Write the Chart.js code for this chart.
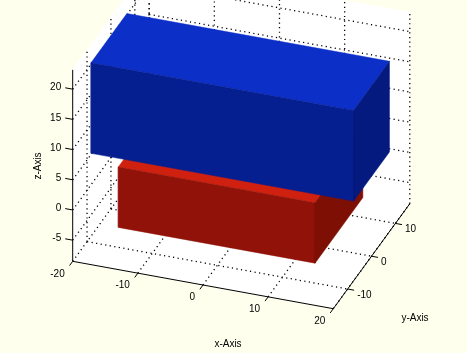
<!DOCTYPE html>
<html>
<head>
<meta charset="utf-8">
<title>3D boxes</title>
<script src="https://cdn.jsdelivr.net/npm/chart.js@4/dist/chart.umd.min.js"></script>
<style>
  html, body { margin: 0; padding: 0; background: #ffffee; }
  canvas { display: block; }
</style>
</head>
<body>
<canvas id="boxChart" width="467" height="353"></canvas>
<script>
// axis limits and ticks
const xLim = [-20, 20];
const yLim = [-16, 16];
const zLim = [-8.5, 23.2];
const xTicks = [-20, -10, 0, 10, 20];
const yTicks = [-10, 0, 10];
const zTicks = [-5, 0, 5, 10, 15, 20];

// the two boxes
const blueX = [-20.3, 20];
const blueY = [-7.5, 7.5];
const blueZ = [4.7, 19.7];
const redX = [-15.2, 15];
const redY = [-10, 10];
const redZ = [-5.2, 4.8];

// orthographic view: screen position of one data unit along each axis
const view = { ox: 241.24, oy: 181.18, xx: 6.515, xy: 1.185, yx: 2.39, yy: -3.28, zy: -6.04 };
function project(x, y, z) {
  return { x: view.ox + view.xx * x + view.yx * y, y: view.oy + view.xy * x + view.yy * y + view.zy * z };
}

const [x0, x1] = xLim, [y0, y1] = yLim, [z0, z1] = zLim;
const datasets = [];

function polygon(points, color) {
  const data = points.map(p => project(p[0], p[1], p[2]));
  data.push(data[0]);
  datasets.push({ data, showLine: true, fill: 'shape', backgroundColor: color, borderColor: color, borderWidth: 0.5, pointRadius: 0 });
}
function segment(a, b, dash, width) {
  datasets.push({ data: [project(a[0], a[1], a[2]), project(b[0], b[1], b[2])], showLine: true, fill: false, borderColor: '#000', borderWidth: width || 1, borderDash: dash || [], pointRadius: 0 });
}
function box(bx, by, bz, topColor, frontColor, sideColor) {
  polygon([[bx[0], by[0], bz[1]], [bx[1], by[0], bz[1]], [bx[1], by[1], bz[1]], [bx[0], by[1], bz[1]]], topColor);
  polygon([[bx[0], by[0], bz[0]], [bx[1], by[0], bz[0]], [bx[1], by[0], bz[1]], [bx[0], by[0], bz[1]]], frontColor);
  polygon([[bx[1], by[0], bz[0]], [bx[1], by[1], bz[0]], [bx[1], by[1], bz[1]], [bx[1], by[0], bz[1]]], sideColor);
}

// walls
polygon([[x0, y0, z0], [x1, y0, z0], [x1, y1, z0], [x0, y1, z0]], '#fff');
polygon([[x0, y0, z0], [x0, y1, z0], [x0, y1, z1], [x0, y0, z1]], '#fff');
polygon([[x0, y1, z0], [x1, y1, z0], [x1, y1, z1], [x0, y1, z1]], '#fff');

// dotted grid
const dots = [1.2, 3.4];
xTicks.forEach(t => {
  segment([t, y0, z0], [t, y1, z0], dots, 1.3);
  segment([t, y1, z0], [t, y1, z1], dots, 1.3);
});
yTicks.forEach(t => {
  segment([x0, t, z0], [x1, t, z0], dots, 1.3);
  segment([x0, t, z0], [x0, t, z1], dots, 1.3);
});
zTicks.forEach(t => {
  segment([x0, y0, t], [x0, y1, t], dots, 1.3);
  segment([x0, y1, t], [x1, y1, t], dots, 1.3);
});
segment([x0, y1, z0], [x0, y1, z1], dots, 1.3);

// axes and tick marks
segment([x0, y0, z0], [x1, y0, z0]);
segment([x1, y0, z0], [x1, y1, z0]);
segment([x0, y0, z0], [x0, y0, z1]);
xTicks.forEach(t => segment([t, y0, z0], [t, y0 - 1.3, z0]));
yTicks.forEach(t => segment([x1, t, z0], [x1 + 1, t, z0]));
zTicks.forEach(t => segment([x0, y0, t], [x0 - 1.15, y0, t]));

box(redX, redY, redZ, '#d0200f', '#901208', '#7e0f05');
box(blueX, blueY, blueZ, '#0c2fc8', '#051e90', '#041a7e');

// first dataset is drawn last by default, so push the later ones on top
datasets.forEach((d, i) => { d.order = -i; });

const axisText = {
  id: 'axisText',
  afterDatasetsDraw(chart) {
    const { ctx, scales } = chart;
    const put = (text, px, py, align, rot) => {
      ctx.save();
      ctx.translate(scales.x.getPixelForValue(px), scales.y.getPixelForValue(py));
      if (rot) ctx.rotate(rot);
      ctx.textAlign = align;
      ctx.textBaseline = 'middle';
      ctx.fillText(text, 0, 0);
      ctx.restore();
    };
    ctx.save();
    ctx.fillStyle = '#000';
    ctx.font = "10px 'Liberation Sans', sans-serif";
    xTicks.forEach(t => { const p = project(t, y0, z0); put(String(t), p.x - 8, p.y + 12.5, 'right'); });
    yTicks.forEach(t => { const p = project(x1, t, z0); put(String(t), p.x + 9.5, p.y + 6, 'left'); });
    zTicks.forEach(t => { const p = project(x0, y0, t); put(String(t), p.x - 11.5, p.y - 1.5, 'right'); });
    put('x-Axis', 228, 344.5, 'center');
    put('y-Axis', 415, 318.5, 'center');
    put('z-Axis', 38, 166, 'center', -Math.PI / 2);
    ctx.restore();
  }
};

new Chart(document.getElementById('boxChart').getContext('2d'), {
  type: 'scatter',
  data: { datasets },
  options: {
    responsive: false,
    animation: false,
    layout: { padding: 0 },
    scales: {
      x: { type: 'linear', display: false, min: 0, max: 467 },
      y: { type: 'linear', display: false, min: 0, max: 353, reverse: true }
    },
    plugins: { legend: { display: false }, tooltip: { enabled: false } }
  },
  plugins: [axisText]
});
</script>
</body>
</html>
